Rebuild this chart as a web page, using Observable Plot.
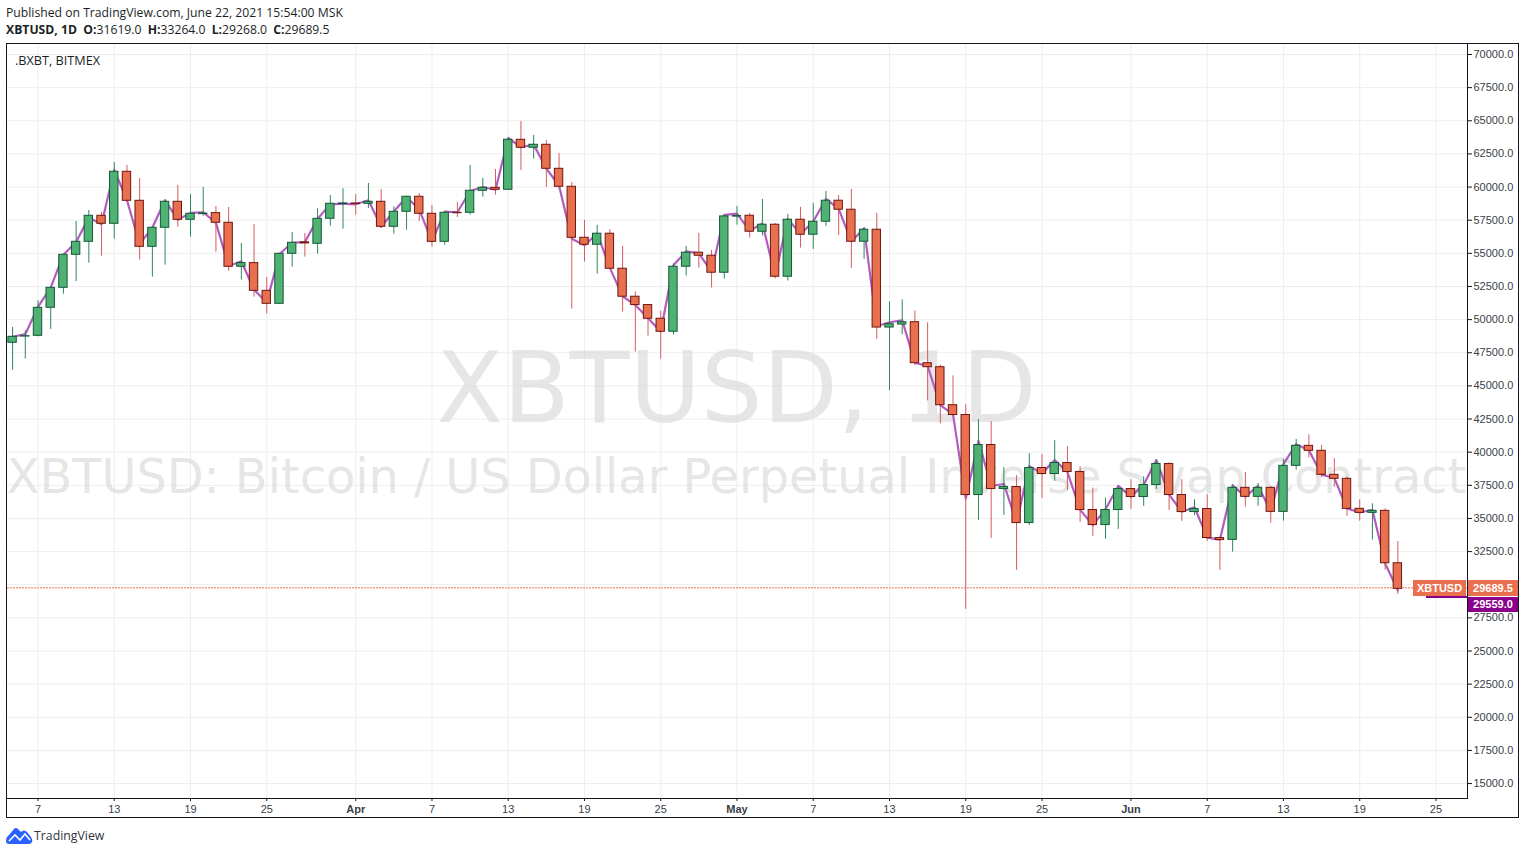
<!DOCTYPE html>
<html><head><meta charset="utf-8">
<script src="https://cdn.jsdelivr.net/npm/d3@7"></script>
<script src="https://cdn.jsdelivr.net/npm/@observablehq/plot@0.6"></script>
<style>
html,body{margin:0;padding:0;background:#fff;width:1525px;height:854px;overflow:hidden;}
.hdr{position:absolute;left:6px;font:12.2px "Open Sans",sans-serif;color:#1c1f26;white-space:nowrap;line-height:16px;}
.hdr b{font-weight:700;}
.hdr span{margin-right:3px;}
#chart{position:absolute;left:6px;top:43px;width:1511px;height:773px;border:1px solid #131722;}
#chart svg{display:block;}
.tag{position:absolute;color:#fff;font:bold 11px "Liberation Sans",sans-serif;text-align:center;}
</style></head><body>
<div class="hdr" style="top:5px">Published on TradingView.com, June 22, 2021 15:54:00 MSK</div>
<div class="hdr" style="top:22px"><b>XBTUSD, 1D</b>&nbsp; <b>O:</b><span>31619.0</span> <b>H:</b><span>33264.0</span> <b>L:</b><span>29268.0</span> <b>C:</b><span>29689.5</span></div>
<div id="chart"></div>
<div class="hdr" style="left:15px;top:52px;font-size:12.7px">.BXBT, BITMEX</div>
<div class="tag" style="left:1413px;top:580px;width:53px;height:16px;line-height:16px;background:#e9704e">XBTUSD</div>
<div class="tag" style="left:1468px;top:580px;width:50px;height:16px;line-height:16px;background:#e9704e">29689.5</div>
<div class="tag" style="left:1426px;top:596px;width:41px;height:2px;background:#8b008b"></div>
<div class="tag" style="left:1468px;top:597px;width:50px;height:15px;line-height:15px;background:#8b008b">29559.0</div>
<svg style="position:absolute;left:6px;top:827px" width="27" height="17" viewBox="0 0 27 17"><path d="M0 14 Q0 10 3 8 L8 2 Q10 0 12 2 L15 5 Q18 2 21 5 L25 10 Q27 13 26 15 Q25 17 23 17 L3 17 Q0 17 0 14Z" fill="#2962ff"/><path d="M3 14 L9 8 L14 13 L19 7 L24 13" fill="none" stroke="#fff" stroke-width="1.6"/></svg>
<div class="hdr" style="left:34px;top:828px;font-size:12.3px;color:#30343c">TradingView</div>
<script>
const open = [
 48250,48720,48778,50890,52400,54890,55870,57832,57228,61152,58964,55493,56927,58888,57530,57960,58033,57304,53984,54261,52173,51192,54965,55830,55720,57606,58720,
 58760,58738,58888,57002,58134,59266,57983,55870,58058,58058,59718,59945,59794,63566,62963,63189,61378,60020,56172,55649,56479,53838,51726,51097,50066,49085,53989,55047,54819,53536,
 57770,57837,56630,57158,53234,57535,56404,57384,58969,58290,55876,56781,49402,49629,49804,46711,46409,43542,42802,36766,40538,37218,37369,34653,38803,38350,39180,38501,35634,34502,35634,
 37218,36615,37520,39105,36766,35483,35709,33521,33385,37309,36630,37309,35498,38969,40478,40100,38290,37988,35724,35422,35573,31619];
const high = [
 49407,49155,51419,52450,54950,57405,58234,58084,61856,61630,60649,56950,59039,60121,59442,59970,58536,58461,55745,57178,53179,55000,56575,56499,58360,59366,59870,
 59417,60272,59794,58511,59300,59517,58612,58159,58838,61630,60649,61328,63717,64950,63893,63516,62535,60347,57480,57108,56781,55523,52103,51100,50619,54215,55523,56504,55222,57850,
 58541,58013,59069,57250,57938,58466,58768,59673,59371,59824,56860,58013,51338,51489,50660,49754,46585,45755,43581,42449,42299,38828,38224,39884,39809,40865,40412,38903,37294,36539,37445,
 37923,38149,39431,39205,37923,36413,36790,33600,37535,38466,37636,37409,39447,40955,41308,40503,39522,38139,36403,36102,35724,33264];
const low = [
 46188,47018,48700,49256,51922,52877,54261,54789,56072,58900,54487,53204,54110,56977,56222,57800,55091,53657,52978,51695,50413,51150,53959,54713,54940,57052,56826,
 57882,58385,56902,56449,56751,57405,55468,55619,57706,57882,59240,59391,59750,61253,62107,59970,59970,50790,54336,53436,53800,50569,47551,48758,47023,48833,53285,53888,52380,53059,
 57133,56152,56300,53059,52908,55397,55297,57032,56353,53864,54543,48506,44624,48849,46510,43869,42134,42700,28139,34854,33496,35231,31082,34477,36514,37797,37118,34703,33647,33421,34175,
 35684,35910,37193,35609,34779,35206,33270,31082,32455,35850,35925,34643,34794,38642,39572,38063,37359,35171,34794,33360,31096,29268];
const close = [
 48703,48750,50890,52400,54890,55870,57832,57228,61152,58964,55493,56927,58888,57530,57983,58000,57304,53984,54261,52173,51192,54965,55795,55750,57606,58738,58760,
 58720,58888,57002,58134,59266,57983,55870,58058,58030,59718,59945,59794,63566,62963,63189,61378,60020,56172,55649,56479,53838,51726,51097,50066,49085,53989,55047,54819,53536,57787,
 57810,56630,57158,53234,57535,56404,57384,58969,58290,55876,56781,49402,49654,49804,46711,46409,43542,42802,36766,40538,37218,37369,34653,38803,38350,39180,38501,35634,34502,35634,37218,
 36615,37520,39105,36766,35483,35709,33521,33370,37309,36630,37309,35498,38969,40478,40100,38290,37988,35724,35422,35573,31619,29689.5];
const bxbt = [
 48710,48900,50960,52420,54900,55850,57700,57200,61300,59000,55700,56950,59000,57530,58050,58100,57300,54050,54400,52250,51300,54950,55800,55850,57600,58700,58750,
 58700,59000,57000,58150,59250,58300,55900,58150,58100,59700,60000,59800,63700,63000,63200,61400,60100,56100,55600,56500,53900,51750,51100,50100,49100,54100,55150,55000,53600,57900,
 58000,56700,57250,53300,57600,56450,57400,59100,58350,55900,56900,49500,49800,49950,46750,46500,43550,42850,36500,40850,37450,37600,34700,38950,38400,39400,38500,35650,34500,35700,37450,
 36650,37550,39400,36800,35500,35850,33550,33400,37500,36650,37450,35550,39100,40600,40150,38300,38050,35750,35450,35650,31600,29559];

const priceTicks = [15000,17500,20000,22500,25000,27500,30000,32500,35000,37500,40000,42500,45000,47500,50000,52500,55000,57500,60000,62500,65000,67500,70000];
const hiddenPriceTick = 30000;
const lastClose = 29689.5;
const dayTickDates = ["2021-03-07","2021-03-13","2021-03-19","2021-03-25","2021-04-07","2021-04-13","2021-04-19","2021-04-25","2021-05-07","2021-05-13","2021-05-19","2021-05-25","2021-06-07","2021-06-13","2021-06-19","2021-06-25"].map(d=>new Date(d));
const monthTickDates = ["2021-04-01","2021-05-01","2021-06-01"].map(d=>new Date(d));

const DAY = 864e5;
const firstDay = Date.UTC(2021,2,5);
const candles = open.map((o,i)=>({date:new Date(firstDay+i*DAY),open:o,high:high[i],low:low[i],close:close[i],bxbt:bxbt[i],up:close[i]>=o}));
const halfBody = 0.33*DAY;

const UP_FILL="#4fb273",UP_EDGE="#14583a",UP_WICK="#2b8a56",DN_FILL="#e9704e",DN_EDGE="#6e1610",DN_WICK="#d65a5f";

const chart = Plot.plot({
  width:1511,height:773,marginLeft:0,marginRight:51,marginTop:0,marginBottom:19,
  style:{background:"#fff",fontFamily:"'Liberation Sans',sans-serif",fontSize:"11px",color:"#2a2e39",overflow:"visible"},
  x:{type:"utc",domain:[new Date(Date.UTC(2021,2,7)-2.40*DAY),new Date(Date.UTC(2021,2,7)+112.48*DAY)]},
  y:{domain:[13873,70754]},
  marks:[
    Plot.gridX([...dayTickDates,...monthTickDates],{stroke:"#eeeeee",strokeOpacity:1}),
    Plot.gridY(priceTicks,{stroke:"#eeeeee",strokeOpacity:1}),
    Plot.text(["XBTUSD, 1D"],{frameAnchor:"middle",dy:-31,dx:-1,fontSize:97.5,fill:"#d8d8d8",fillOpacity:0.65,fontFamily:"'DejaVu Sans',sans-serif"}),
    Plot.text(["XBTUSD: Bitcoin / US Dollar Perpetual Inverse Swap Contract"],{frameAnchor:"middle",dy:56.5,dx:-1,fontSize:47.8,fill:"#d8d8d8",fillOpacity:0.65,fontFamily:"'DejaVu Sans',sans-serif"}),
    Plot.ruleY([lastClose],{stroke:"#e9704e",strokeDasharray:"2,1",dy:-1}),
    Plot.line(candles,{x:"date",y:"bxbt",stroke:"#b35cbf",strokeWidth:2.2,curve:"linear"}),
    Plot.ruleX(candles,{x:"date",y1:"low",y2:"high",stroke:d=>d.up?UP_WICK:DN_WICK,strokeWidth:1}),
    Plot.rect(candles,{x1:d=>new Date(+d.date-halfBody),x2:d=>new Date(+d.date+halfBody),y1:"open",y2:"close",
      fill:d=>d.up?UP_FILL:DN_FILL,stroke:d=>d.up?UP_EDGE:DN_EDGE,strokeWidth:1}),
    Plot.axisY(priceTicks.filter(t=>t!==hiddenPriceTick),{anchor:"right",label:null,tickSize:4,tickPadding:2,tickFormat:d=>d.toFixed(1),stroke:"#131722",fill:"#3a3e48"}),
    Plot.axisX(dayTickDates,{anchor:"bottom",label:null,tickSize:3,tickPadding:4,tickFormat:d=>String(d.getUTCDate()),stroke:"#131722",fill:"#3a3e48"}),
    Plot.axisX(monthTickDates,{anchor:"bottom",label:null,tickSize:3,tickPadding:4,tickFormat:d=>d3.utcFormat("%b")(d),stroke:"#131722",fill:"#3a3e48",fontWeight:"bold"}),
    Plot.frame({anchor:"right",stroke:"#131722"}),
    Plot.frame({anchor:"bottom",stroke:"#131722"})
  ]
});
document.getElementById("chart").appendChild(chart);
</script>
</body></html>
